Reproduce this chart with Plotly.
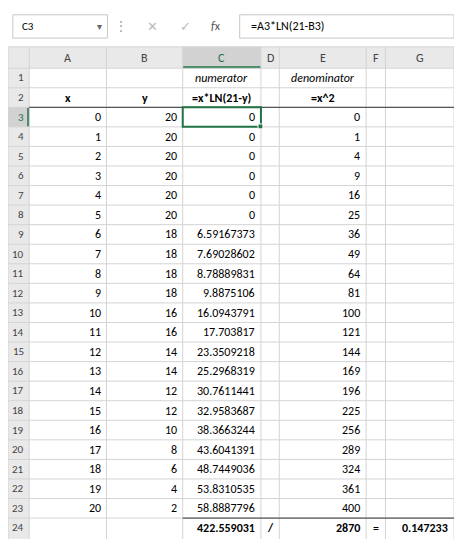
import plotly.graph_objects as go

x_vals = list(range(21))
y_vals = [20, 20, 20, 20, 20, 20, 18, 18, 18, 18, 16, 16, 14, 14, 12, 12, 10, 8, 6, 4, 2]
numerators = ["0", "0", "0", "0", "0", "0", "6.59167373", "7.69028602", "8.78889831",
              "9.8875106", "16.0943791", "17.703817", "23.3509218", "25.2968319",
              "30.7611441", "32.9583687", "38.3663244", "43.6041391", "48.7449036",
              "53.8310535", "58.8887796"]
denominators = [v * v for v in x_vals]
col_letters = ["A", "B", "C", "D", "E", "F", "G"]
total_num = "422.559031"
total_den = "2870"
result = "0.147233"

# pixel grid
col_edges = [0, 22, 102, 181, 262, 281, 371, 391, 462]
head_top, head_bot = 40, 62
row_h = 20.15
row_top = lambda r: head_bot + (r - 1) * row_h
grid = "#d4d4d4"

fig = go.Figure()
shapes, ann = [], []

def txt(x, y, s, anchor="right", size=12, color="black", **kw):
    ann.append(dict(x=x, y=y, text=s, showarrow=False, xanchor=anchor, yanchor="middle",
                    font=dict(size=size, color=color, family="Calibri, Liberation Sans, Arial"), **kw))

# formula bar area
shapes.append(dict(type="rect", x0=0, x1=462, y0=0, y1=head_top, fillcolor="#ffffff", line_width=0))
shapes.append(dict(type="rect", x0=5, x1=103, y0=7, y1=31, line=dict(color="#c6c6c6", width=1)))
txt(12, 19, "C3", anchor="left", size=11)
txt(95, 19, "▾", anchor="center", size=10, color="#666")
txt(117, 19, "⋮", anchor="center", size=12, color="#999")
txt(150, 19, "✕", anchor="center", size=13, color="#bbb")
txt(184, 19, "✓", anchor="center", size=13, color="#bbb")
txt(215, 19, "<i>f</i>x", anchor="center", size=12, color="#555")
shapes.append(dict(type="rect", x0=240, x1=462, y0=7, y1=31, line=dict(color="#c6c6c6", width=1)))
txt(250, 19, "=A3*LN(21-B3)", anchor="left", size=12)

# headers
shapes.append(dict(type="rect", x0=0, x1=462, y0=head_top, y1=head_bot, fillcolor="#e9e9e9", line_width=0))
shapes.append(dict(type="rect", x0=0, x1=col_edges[1], y0=head_bot, y1=547, fillcolor="#e9e9e9", line_width=0))
shapes.append(dict(type="rect", x0=col_edges[3], x1=col_edges[4], y0=head_top, y1=head_bot, fillcolor="#d2d2d2", line_width=0))
shapes.append(dict(type="rect", x0=0, x1=col_edges[1], y0=row_top(3), y1=row_top(4), fillcolor="#d2d2d2", line_width=0))
shapes.append(dict(type="line", x0=col_edges[3], x1=col_edges[4], y0=head_bot - 1, y1=head_bot - 1, line=dict(color="#217346", width=2)))
shapes.append(dict(type="line", x0=col_edges[1] - 1, x1=col_edges[1] - 1, y0=row_top(3), y1=row_top(4), line=dict(color="#217346", width=2)))
for i, L in enumerate(col_letters):
    txt((col_edges[i + 1] + col_edges[i + 2]) / 2, (head_top + head_bot) / 2, L, anchor="center",
        size=12, color="#217346" if L == "C" else "#444")
for r in range(1, 25):
    txt(col_edges[1] - 3, row_top(r) + row_h / 2, str(r), size=11, color="#217346" if r == 3 else "#444")

# grid lines
for e in col_edges:
    shapes.append(dict(type="line", x0=e, x1=e, y0=head_top, y1=547, line=dict(color=grid, width=1)))
for r in range(0, 25):
    y = head_top if r == 0 else row_top(r)
    shapes.append(dict(type="line", x0=0, x1=462, y0=y, y1=y, line=dict(color=grid, width=1)))

# headings rows 1-2
def cx(c): return (col_edges[c + 1] + col_edges[c + 2]) / 2
def rx(c): return col_edges[c + 2] - 4
txt(cx(2), row_top(1) + row_h / 2, "<i>numerator</i>", anchor="center")
txt(cx(4), row_top(1) + row_h / 2, "<i>denominator</i>", anchor="center")
txt(cx(0), row_top(2) + row_h / 2, "<b>x</b>", anchor="center")
txt(cx(1), row_top(2) + row_h / 2, "<b>y</b>", anchor="center")
txt(cx(2), row_top(2) + row_h / 2, "<b>=x*LN(21-y)</b>", anchor="center")
txt(cx(4), row_top(2) + row_h / 2, "<b>=x^2</b>", anchor="center")
shapes.append(dict(type="line", x0=col_edges[1], x1=col_edges[8], y0=row_top(3), y1=row_top(3), line=dict(color="#333", width=1)))

for i in range(21):
    yy = row_top(i + 3) + row_h / 2
    txt(rx(0), yy, str(x_vals[i]))
    txt(rx(1), yy, str(y_vals[i]))
    txt(rx(2), yy, numerators[i])
    txt(rx(4), yy, str(denominators[i]))

yy = row_top(24) + row_h / 2
txt(rx(2), yy, "<b>" + total_num + "</b>")
txt(cx(3), yy, "<b>/</b>", anchor="center")
txt(rx(4), yy, "<b>" + total_den + "</b>")
txt(cx(5), yy, "=", anchor="center")
txt(rx(6), yy, "<b>" + result + "</b>")
shapes.append(dict(type="line", x0=col_edges[3], x1=col_edges[8], y0=row_top(24), y1=row_top(24), line=dict(color="#333", width=1)))

# selected cell
shapes.append(dict(type="rect", x0=col_edges[3], x1=col_edges[4], y0=row_top(3), y1=row_top(4), line=dict(color="#217346", width=2)))
shapes.append(dict(type="rect", x0=col_edges[4] - 3, x1=col_edges[4] + 2, y0=row_top(4) - 3, y1=row_top(4) + 2, fillcolor="#217346", line=dict(color="white", width=1)))

fig.update_layout(
    width=446, height=531, margin=dict(l=0, r=0, t=0, b=0),
    plot_bgcolor="white", paper_bgcolor="white",
    xaxis=dict(range=[0, 462], visible=False, fixedrange=True),
    yaxis=dict(range=[547, 0], visible=False, fixedrange=True),
    shapes=shapes, annotations=ann, showlegend=False,
)
fig.write_html("out.html")
